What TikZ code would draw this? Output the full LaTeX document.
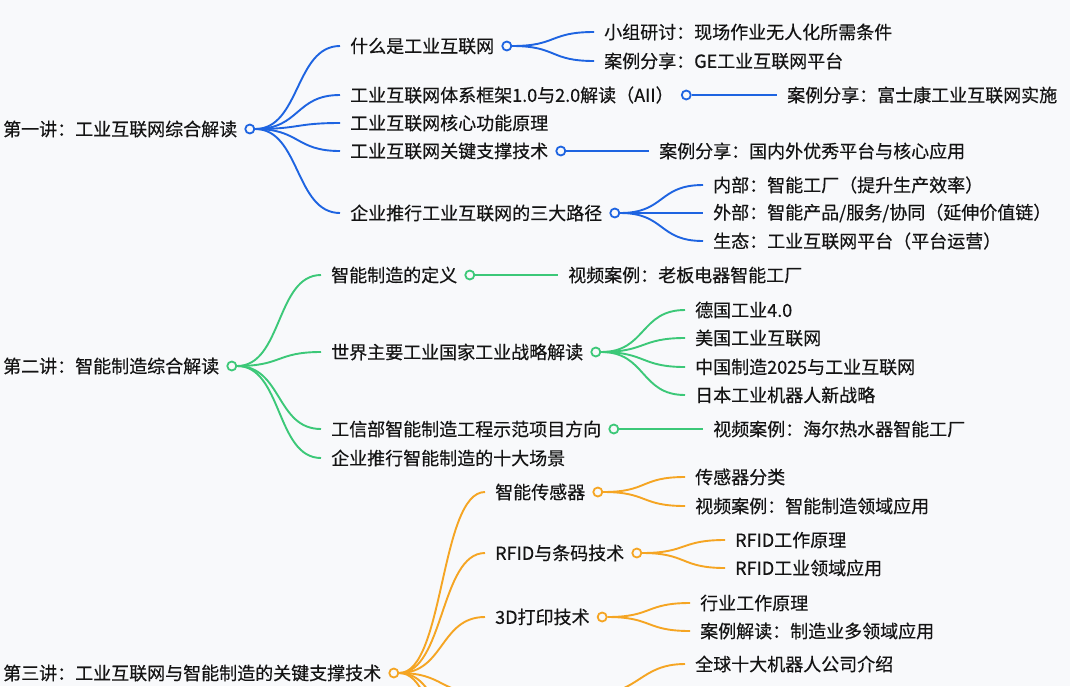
\documentclass[tikz,border=0pt]{standalone}
\usepackage{fontspec}
\setmainfont{Noto Sans CJK SC}[FakeBold=0.4]
\usepackage{tikz}
\usetikzlibrary{positioning}
\usepackage{xcolor}
\definecolor{bgcol}{RGB}{248,249,251}
\definecolor{txtcol}{RGB}{20,20,20}
\definecolor{bluecol}{RGB}{30,100,225}
\definecolor{greencol}{RGB}{60,200,120}
\definecolor{orangecol}{RGB}{245,165,35}

\begin{document}
\begin{tikzpicture}[x=1pt,y=-1pt,node distance=7pt]
    \tikzstyle{topic}=[anchor=west,inner sep=0pt,text=txtcol,font=\fontsize{18pt}{22pt}\selectfont]
    \tikzstyle{knob}=[circle,line width=1.8pt,fill=bgcol,minimum size=9pt,inner sep=0pt]
    \tikzstyle{link}=[draw,line width=1.9pt,out=0,in=180,distance=45pt]

    \useasboundingbox (0,0) rectangle (1070,686);
    \clip (0,0) rectangle (1070,686);
    \fill[bgcol] (0,0) rectangle (1070,686);

    % first lecture
    \node[topic] (A1) at (3,129) {第一讲：工业互联网综合解读};
    \node[topic] (B1) at (350,46) {什么是工业互联网};
    \node[topic] (B2) at (350,95) {工业互联网体系框架1.0与2.0解读（AII）};
    \node[topic] (B3) at (350,123) {工业互联网核心功能原理};
    \node[topic] (B4) at (350,151) {工业互联网关键支撑技术};
    \node[topic] (B5) at (350,213) {企业推行工业互联网的三大路径};
    \node[topic] (C1) at (604,32) {小组研讨：现场作业无人化所需条件};
    \node[topic] (C2) at (604,61) {案例分享：GE工业互联网平台};
    \node[topic] (C3) at (787,95) {案例分享：富士康工业互联网实施};
    \node[topic] (C4) at (659,151) {案例分享：国内外优秀平台与核心应用};
    \node[topic] (C5) at (713,185) {内部：智能工厂（提升生产效率）};
    \node[topic] (C6) at (713,213) {外部：智能产品/服务/协同（延伸价值链）};
    \node[topic] (C7) at (713,241) {生态：工业互联网平台（平台运营）};
    \node[knob,draw=bluecol,right=of A1] (oA1) {};
    \node[knob,draw=bluecol,right=of B1] (oB1) {};
    \node[knob,draw=bluecol,right=of B2] (oB2) {};
    \node[knob,draw=bluecol,right=of B4] (oB4) {};
    \node[knob,draw=bluecol,right=of B5] (oB5) {};

    % second lecture
    \node[topic] (A2) at (3,366) {第二讲：智能制造综合解读};
    \node[topic] (B6) at (331,275) {智能制造的定义};
    \node[topic] (B7) at (331,352) {世界主要工业国家工业战略解读};
    \node[topic] (B8) at (331,429) {工信部智能制造工程示范项目方向};
    \node[topic] (B9) at (331,458) {企业推行智能制造的十大场景};
    \node[topic] (C8) at (568,275) {视频案例：老板电器智能工厂};
    \node[topic] (C9) at (695,310) {德国工业4.0};
    \node[topic] (C10) at (695,338) {美国工业互联网};
    \node[topic] (C11) at (695,367) {中国制造2025与工业互联网};
    \node[topic] (C12) at (695,395) {日本工业机器人新战略};
    \node[topic] (C13) at (713,429) {视频案例：海尔热水器智能工厂};
    \node[knob,draw=greencol,right=of A2] (oA2) {};
    \node[knob,draw=greencol,right=of B6] (oB6) {};
    \node[knob,draw=greencol,right=of B7] (oB7) {};
    \node[knob,draw=greencol,right=of B8] (oB8) {};

    % third lecture
    \node[topic] (A3) at (3,673) {第三讲：工业互联网与智能制造的关键支撑技术};
    \node[topic] (B10) at (495,492) {智能传感器};
    \node[topic] (B11) at (495,553) {RFID与条码技术};
    \node[topic] (B12) at (495,617) {3D打印技术};
    \coordinate (B13) at (495,694);
    \coordinate (B14) at (495,760);
    \coordinate (B15) at (495,830);
    \node[topic] (C14) at (695,477) {传感器分类};
    \node[topic] (C15) at (695,506) {视频案例：智能制造领域应用};
    \node[topic] (C16) at (735,540) {RFID工作原理};
    \node[topic] (C17) at (735,568) {RFID工业领域应用};
    \node[topic] (C18) at (700,603) {行业工作原理};
    \node[topic] (C19) at (700,631) {案例解读：制造业多领域应用};
    \node[topic] (C20) at (695,664) {全球十大机器人公司介绍};
    \node[knob,draw=orangecol,right=of A3] (oA3) {};
    \node[knob,draw=orangecol,right=of B10] (oB10) {};
    \node[knob,draw=orangecol,right=of B11] (oB11) {};
    \node[knob,draw=orangecol,right=of B12] (oB12) {};
    \coordinate (oB13) at (594,694);

    \path[bluecol]
    (oA1) edge[link] ([xshift=-10pt]B1.west)
    (oA1) edge[link] ([xshift=-10pt]B2.west)
    (oA1) edge[link] ([xshift=-10pt]B3.west)
    (oA1) edge[link] ([xshift=-10pt]B4.west)
    (oA1) edge[link] ([xshift=-10pt]B5.west)
    (oB1) edge[link] ([xshift=-10pt]C1.west)
    (oB1) edge[link] ([xshift=-10pt]C2.west)
    (oB2) edge[link] ([xshift=-10pt]C3.west)
    (oB4) edge[link] ([xshift=-10pt]C4.west)
    (oB5) edge[link] ([xshift=-10pt]C5.west)
    (oB5) edge[link] ([xshift=-10pt]C6.west)
    (oB5) edge[link] ([xshift=-10pt]C7.west)
    ;
    \path[greencol]
    (oA2) edge[link] ([xshift=-10pt]B6.west)
    (oA2) edge[link] ([xshift=-10pt]B7.west)
    (oA2) edge[link] ([xshift=-10pt]B8.west)
    (oA2) edge[link] ([xshift=-10pt]B9.west)
    (oB6) edge[link] ([xshift=-10pt]C8.west)
    (oB7) edge[link] ([xshift=-10pt]C9.west)
    (oB7) edge[link] ([xshift=-10pt]C10.west)
    (oB7) edge[link] ([xshift=-10pt]C11.west)
    (oB7) edge[link] ([xshift=-10pt]C12.west)
    (oB8) edge[link] ([xshift=-10pt]C13.west)
    ;
    \path[orangecol]
    (oA3) edge[link] ([xshift=-10pt]B10.west)
    (oA3) edge[link] ([xshift=-10pt]B11.west)
    (oA3) edge[link] ([xshift=-10pt]B12.west)
    (oA3) edge[link] ([xshift=-10pt]B13)
    (oA3) edge[link] ([xshift=-10pt]B14)
    (oA3) edge[link] ([xshift=-10pt]B15)
    (oB10) edge[link] ([xshift=-10pt]C14.west)
    (oB10) edge[link] ([xshift=-10pt]C15.west)
    (oB11) edge[link] ([xshift=-10pt]C16.west)
    (oB11) edge[link] ([xshift=-10pt]C17.west)
    (oB12) edge[link] ([xshift=-10pt]C18.west)
    (oB12) edge[link] ([xshift=-10pt]C19.west)
    (oB13) edge[link] ([xshift=-10pt]C20.west)
    ;
\end{tikzpicture}
\end{document}
